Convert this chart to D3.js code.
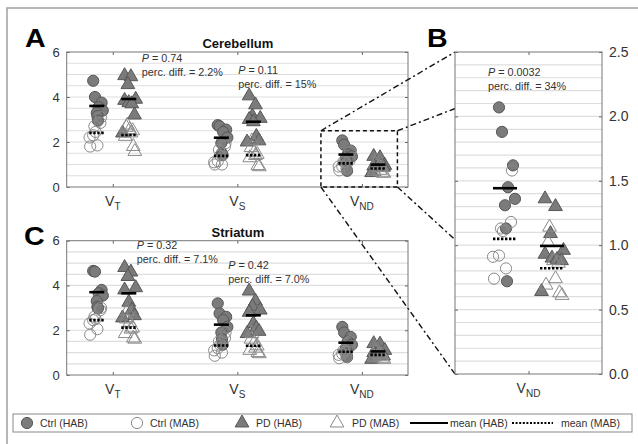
<!DOCTYPE html>
<html>
<head>
<meta charset="utf-8">
<script src="https://cdn.jsdelivr.net/npm/d3@7"></script>
<style>
  body { margin: 0; background: #fff; }
  text { font-family: "Liberation Sans", Arial, sans-serif; }
</style>
</head>
<body>
<script>
// parameters on the x axis
var params = ["VT", "VS", "VND"];
var paramSub = ["T", "S", "ND"];

// cerebellum values, one array per parameter
var cerebCtrlHAB = [
  [4.72, 4.0, 3.75, 3.55, 3.4, 3.3, 3.15, 2.95],
  [2.75, 2.7, 2.55, 2.45, 2.2, 1.95, 1.5, 1.42],
  [2.07, 1.88, 1.62, 1.45, 1.36, 1.31, 1.13, 0.72]
];
var cerebCtrlMAB = [
  [3.1, 2.85, 2.7, 2.45, 2.3, 2.2, 1.85, 1.8],
  [1.95, 1.8, 1.65, 1.4, 1.15, 1.1, 1.0, 1.0],
  [1.58, 1.18, 1.13, 1.11, 0.92, 0.91, 0.82, 0.74]
];
var cerebPdHAB = [
  [4.95, 4.9, 4.55, 3.9, 3.85, 3.75, 3.7, 3.2, 2.4],
  [4.05, 3.65, 3.15, 3.05, 3.0, 2.9, 2.25, 2.05, 2.0],
  [1.36, 1.30, 1.09, 0.96, 0.93, 0.90, 0.89, 0.88, 0.64]
];
var cerebPdMAB = [
  [2.75, 2.65, 2.55, 2.5, 2.4, 2.25, 1.8, 1.58],
  [2.05, 1.75, 1.55, 1.45, 1.4, 1.3, 0.95, 0.9],
  [1.14, 1.02, 0.88, 0.86, 0.74, 0.69, 0.63, 0.61]
];

// striatum values
var striCtrlHAB = [
  [4.65, 4.62, 3.8, 3.65, 3.55, 3.3, 3.05, 2.98],
  [3.2, 2.75, 2.6, 2.45, 2.15, 1.9, 1.6, 1.35],
  [2.15, 1.9, 1.7, 1.5, 1.35, 1.2, 0.95, 0.8]
];
var striCtrlMAB = [
  [3.0, 2.9, 2.6, 2.5, 2.45, 2.3, 2.05, 1.8],
  [1.9, 1.65, 1.5, 1.35, 1.2, 1.1, 1.0, 0.86],
  [1.5, 1.25, 1.1, 1.05, 0.95, 0.9, 0.8, 0.75]
];
var striPdHAB = [
  [4.8, 4.6, 4.4, 3.9, 3.8, 3.25, 2.9, 2.65, 2.55],
  [3.75, 3.3, 3.05, 2.9, 2.8, 2.3, 2.1, 1.95, 1.85],
  [1.4, 1.38, 1.2, 1.1, 1.0, 0.95, 0.9, 0.85, 0.7]
];
var striPdMAB = [
  [2.85, 2.5, 2.35, 2.1, 2.05, 1.85, 1.65, 1.6],
  [1.85, 1.6, 1.45, 1.3, 1.2, 1.1, 1.0, 0.95],
  [1.2, 1.05, 0.95, 0.9, 0.85, 0.8, 0.75, 0.7]
];

// statistics text
var cerebP = ["0.74", "0.11", "0.0032"];
var cerebDiff = ["2.2%", "15%", "34%"];
var striP = ["0.32", "0.42"];
var striDiff = ["7.1%", "7.0%"];

var legendLabels = ["Ctrl (HAB)", "Ctrl (MAB)", "PD (HAB)", "PD (MAB)", "mean (HAB)", "mean (MAB)"];

// fixed horizontal spread pattern for the points in each group
var jitHABc = [-0.6, -0.3, 0.8, 0.3, 1.0, 0, 0.1, 0.2];
var jitMABc = [0.7, 0.6, -0.4, -0.2, -0.6, -1.2, 0.1, -1.1];
var jitHABt = [-0.7, 0.35, -0.15, 1.15, -0.7, 0, 0.5, 0.95, -1.05];
var jitMABt = [-0.25, -0.4, 0.15, 0.65, 0.35, -0.6, 0.75, 1.0];

var fillDark = "#7b7b7b", strokeDark = "#575757", strokeOpen = "#8a8a8a";

var svg = d3.select("body").append("svg")
  .attr("width", 638).attr("height", 444);

// outer frame
svg.append("path").attr("d", "M7,444V8H638")
  .attr("fill", "none").attr("stroke", "#a0a0a0").attr("stroke-width", 1.5);

var circleSym = d3.symbol().type(d3.symbolCircle).size(Math.PI * 5.6 * 5.6);
var triSym = d3.symbol().type(d3.symbolTriangle).size(82);

function drawPanel(opt) {
  var x = opt.x, y = opt.y;
  var xr = x.range(), yr = y.range();
  var g = svg.append("g");

  g.append("rect").attr("x", xr[0]).attr("y", yr[1])
    .attr("width", xr[1] - xr[0]).attr("height", yr[0] - yr[1])
    .attr("fill", "#fff");

  // horizontal grid
  var gridVals = d3.range(1, Math.round(opt.yMax / opt.gridStep)).map(function (k) { return k * opt.gridStep; });
  g.selectAll(".grid").data(gridVals).enter().append("line")
    .attr("x1", xr[0]).attr("x2", xr[1])
    .attr("y1", function (d) { return y(d); }).attr("y2", function (d) { return y(d); })
    .attr("stroke", "#dedede").attr("stroke-width", 1.2);

  // axes with inward ticks
  var left = d3.axisLeft(y).tickValues(opt.yTicks).tickSize(-3).tickPadding(7)
    .tickFormat(opt.labelsRight ? "" : d3.format("d"));
  var right = d3.axisRight(y).tickValues(opt.yTicks).tickSize(-3).tickPadding(7)
    .tickFormat(opt.labelsRight ? d3.format(".1f") : "");

  g.append("g").attr("transform", "translate(" + xr[0] + ",0)").call(left);
  g.append("g").attr("transform", "translate(" + xr[1] + ",0)").call(right);
  g.append("g").attr("transform", "translate(0," + yr[0] + ")")
    .call(d3.axisBottom(x).tickSize(-3).tickFormat(""));
  g.append("g").attr("transform", "translate(0," + yr[1] + ")")
    .call(d3.axisTop(x).tickSize(-3).tickFormat(""));
  g.selectAll(".domain").remove();
  g.selectAll(".tick line").attr("stroke", "#666");
  g.selectAll(".tick text").attr("font-size", opt.tickFont).attr("fill", "#333")
    .attr("font-family", "Liberation Sans, Arial, sans-serif");

  // data
  params.forEach(function (p, i) {
    if (x(p) === undefined) return;
    var cx = x(p);
    var groups = [
      { vals: opt.ctrlHAB[i], side: -1, sym: circleSym, filled: true, jit: jitHABc },
      { vals: opt.pdHAB[i], side: 1, sym: triSym, filled: true, jit: jitHABt },
      { vals: opt.ctrlMAB[i], side: -1, sym: circleSym, filled: false, jit: jitMABc },
      { vals: opt.pdMAB[i], side: 1, sym: triSym, filled: false, jit: jitMABt }
    ];
    groups.forEach(function (grp) {
      var gx = cx + grp.side * opt.offset;
      g.selectAll(null).data(grp.vals).enter().append("path")
        .attr("d", grp.sym)
        .attr("transform", function (d, k) {
          return "translate(" + (gx + grp.jit[k] * opt.jitW) + "," + y(d) + ")";
        })
        .attr("fill", grp.filled ? fillDark : "none")
        .attr("stroke", grp.filled ? strokeDark : strokeOpen)
        .attr("stroke-width", 1);
    });
    groups.forEach(function (grp) {
      var gx = cx + grp.side * opt.offset;
      var m = d3.mean(grp.vals);
      g.append("line")
        .attr("x1", gx - opt.meanHalf).attr("x2", gx + opt.meanHalf)
        .attr("y1", y(m)).attr("y2", y(m))
        .attr("stroke", "#000").attr("stroke-width", 2.6)
        .attr("stroke-dasharray", grp.filled ? null : "2.4,1.6");
    });

    // x label with subscript
    var t = g.append("text").attr("x", cx).attr("y", yr[0] + 19)
      .attr("text-anchor", "middle").attr("font-size", 14).attr("fill", "#333");
    t.append("tspan").text("V");
    t.append("tspan").attr("dy", 4).attr("font-size", 10).text(paramSub[i]);
  });

  g.append("rect").attr("x", xr[0]).attr("y", yr[1])
    .attr("width", xr[1] - xr[0]).attr("height", yr[0] - yr[1])
    .attr("fill", "none").attr("stroke", "#777").attr("stroke-width", 1);

  if (opt.title) {
    g.append("text").attr("x", (xr[0] + xr[1]) / 2 + 0.5).attr("y", yr[1] - 4)
      .attr("text-anchor", "middle").attr("font-size", 13).attr("font-weight", "bold")
      .attr("fill", "#111").text(opt.title);
  }

  // statistics annotations
  opt.notes.forEach(function (n) {
    var t1 = g.append("text").attr("x", n.x).attr("y", n.y)
      .attr("font-size", 10.8).attr("fill", "#333");
    t1.append("tspan").attr("font-style", "italic").text("P");
    t1.append("tspan").text(" = " + n.p);
    g.append("text").attr("x", n.x).attr("y", n.y + 14)
      .attr("font-size", 10.8).attr("fill", "#333")
      .text("perc. diff. = " + n.diff);
  });
  return g;
}

// scales
var xA = d3.scalePoint().domain(params).range([66.7, 408]).padding(0.37);
var yA = d3.scaleLinear().domain([0, 6]).range([187, 52]);
var yC = d3.scaleLinear().domain([0, 6]).range([375, 240.7]);
var xB = d3.scalePoint().domain(["VND"]).range([455, 602]).padding(0.5);
var yB = d3.scaleLinear().domain([0, 2.5]).range([374, 52]);

drawPanel({
  x: xA, y: yA, yMax: 6, yTicks: [0, 2, 4, 6], gridStep: 0.5, tickFont: 13,
  ctrlHAB: cerebCtrlHAB, ctrlMAB: cerebCtrlMAB, pdHAB: cerebPdHAB, pdMAB: cerebPdMAB,
  offset: 16, jitW: 6, meanHalf: 7.5, title: "Cerebellum",
  notes: [
    { x: xA("VT") + 29, y: 62, p: cerebP[0], diff: cerebDiff[0] },
    { x: xA("VS") + 1, y: 74, p: cerebP[1], diff: cerebDiff[1] }
  ]
});

drawPanel({
  x: xA, y: yC, yMax: 6, yTicks: [0, 2, 4, 6], gridStep: 0.5, tickFont: 13,
  ctrlHAB: striCtrlHAB, ctrlMAB: striCtrlMAB, pdHAB: striPdHAB, pdMAB: striPdMAB,
  offset: 16, jitW: 6, meanHalf: 7.5, title: "Striatum",
  notes: [
    { x: xA("VT") + 24, y: 249, p: striP[0], diff: striDiff[0] },
    { x: xA("VS") - 9, y: 269, p: striP[1], diff: striDiff[1] }
  ]
});

// zoom box on cerebellum V_ND and the connector lines to panel B
var bx0 = xA("VND") - 41, bx1 = xA("VND") + 35.5, by0 = yA(2.5), by1 = yA(0);
var Bx0 = 455, Bx1 = 602, By0 = yB(2.5), By1 = yB(0);
var connectors = [
  [bx0, by0, Bx0, By0], [bx1, by0, Bx1, By0],
  [bx0, by1, Bx0, By1], [bx1, by1, Bx1, By1]
];
svg.selectAll(".conn").data(connectors).enter().append("line")
  .attr("x1", function (d) { return d[0]; }).attr("y1", function (d) { return d[1]; })
  .attr("x2", function (d) { return d[2]; }).attr("y2", function (d) { return d[3]; })
  .attr("stroke", "#111").attr("stroke-width", 1.4).attr("stroke-dasharray", "6,3,2,3");
svg.append("rect").attr("x", bx0).attr("y", by0)
  .attr("width", bx1 - bx0).attr("height", by1 - by0)
  .attr("fill", "none").attr("stroke", "#111").attr("stroke-width", 1.5)
  .attr("stroke-dasharray", "4,3");

drawPanel({
  x: xB, y: yB, yMax: 2.5, yTicks: [0, 0.5, 1, 1.5, 2, 2.5], gridStep: 0.1, tickFont: 14,
  labelsRight: true,
  ctrlHAB: cerebCtrlHAB, ctrlMAB: cerebCtrlMAB, pdHAB: cerebPdHAB, pdMAB: cerebPdMAB,
  offset: 23.5, jitW: 10, meanHalf: 12,
  notes: [{ x: 488, y: 76, p: cerebP[2], diff: cerebDiff[2] }]
});

// panel letters
[["A", 25, 47], ["B", 427, 47], ["C", 24, 245]].forEach(function (l) {
  svg.append("text").attr("transform", "translate(" + l[1] + "," + l[2] + ") scale(1.1,1)")
    .attr("font-size", 26).attr("font-weight", "bold").attr("fill", "#000").text(l[0]);
});

// legend
var leg = svg.append("g");
leg.append("rect").attr("x", 13).attr("y", 414).attr("width", 619).attr("height", 18)
  .attr("fill", "#fff").attr("stroke", "#888").attr("stroke-width", 1);
var ly = 423;
var legItems = [
  { kind: "sym", sym: circleSym, filled: true, mx: 27, tx: 40 },
  { kind: "sym", sym: circleSym, filled: false, mx: 137, tx: 150 },
  { kind: "sym", sym: triSym, filled: true, mx: 242, tx: 256 },
  { kind: "sym", sym: triSym, filled: false, mx: 337, tx: 352 },
  { kind: "line", dash: null, mx: 410, mx2: 448, tx: 450 },
  { kind: "line", dash: "2,1.6", mx: 512, mx2: 553, tx: 561 }
];
legItems.forEach(function (it, i) {
  if (it.kind === "sym") {
    leg.append("path").attr("d", it.sym)
      .attr("transform", "translate(" + it.mx + "," + ly + ")")
      .attr("fill", it.filled ? fillDark : "none")
      .attr("stroke", it.filled ? strokeDark : strokeOpen);
  } else {
    leg.append("line").attr("x1", it.mx).attr("x2", it.mx2).attr("y1", ly).attr("y2", ly)
      .attr("stroke", "#000").attr("stroke-width", 2.2).attr("stroke-dasharray", it.dash);
  }
  leg.append("text").attr("x", it.tx).attr("y", ly + 4)
    .attr("font-size", 10.5).attr("fill", "#333").text(legendLabels[i]);
});
</script>
</body>
</html>
